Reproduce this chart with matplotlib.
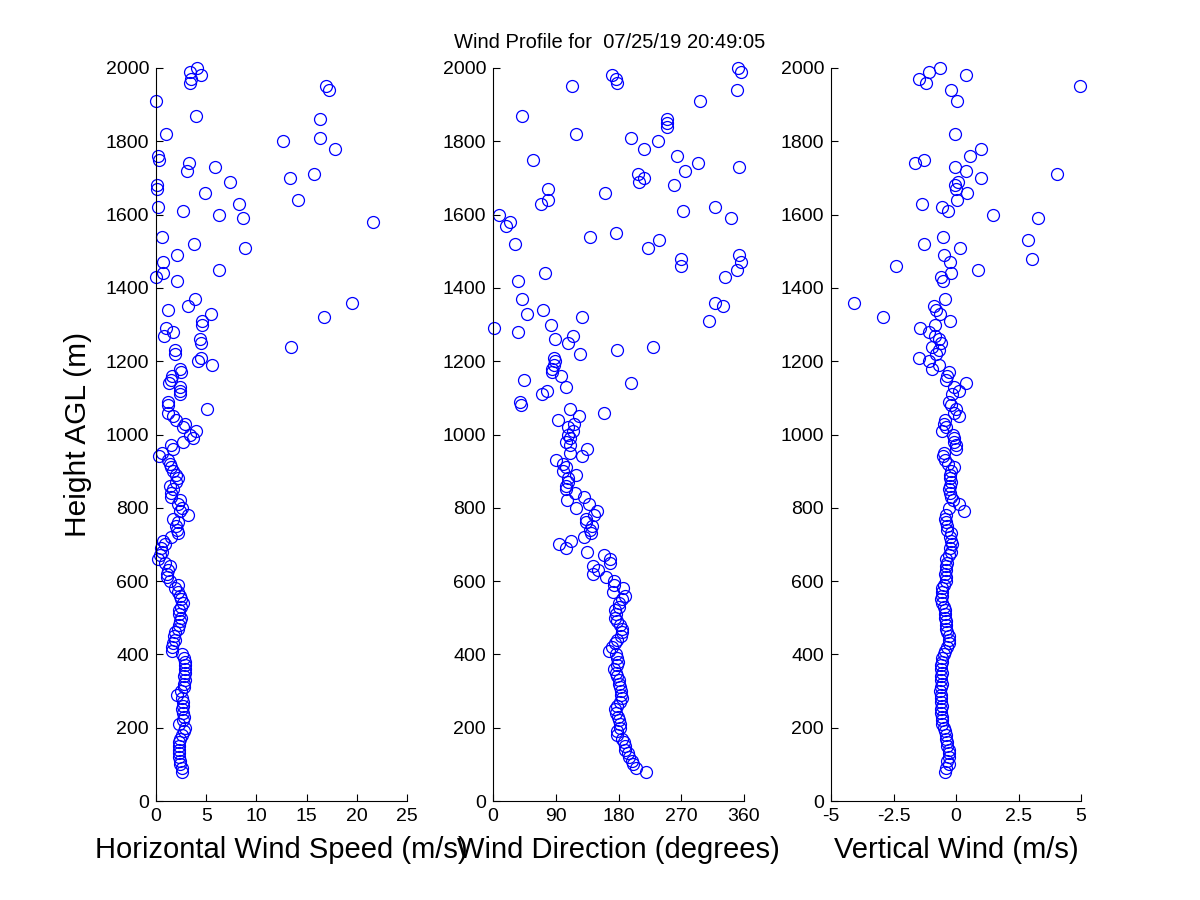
import numpy as np
import matplotlib
matplotlib.use("Agg")
import matplotlib.pyplot as plt

nan = np.nan
title = "Wind Profile for  07/25/19 20:49:05"

heights = [2000, 1990, 1980, 1970, 1960, 1950, 1940, 1910, 1870, 1860, 1850, 1840,
           1820, 1810, 1800, 1780, 1760, 1750, 1740, 1730, 1720, 1710, 1700, 1690,
           1680, 1670, 1660, 1640, 1630, 1620, 1610, 1600, 1590, 1580, 1570, 1550,
           1540, 1530, 1520, 1510, 1490, 1480, 1470, 1460, 1450, 1440, 1430, 1420,
           1370, 1360, 1350, 1340, 1330, 1320, 1310, 1300, 1290, 1280, 1270, 1260,
           1250, 1240, 1230, 1220, 1210, 1200, 1190, 1180, 1170, 1160, 1150, 1140,
           1130, 1120, 1110, 1090, 1080, 1070, 1060, 1050, 1040, 1030, 1020, 1010,
           1000, 990, 980, 970, 960, 950, 940, 930, 920, 910, 900, 890, 880, 870,
           860, 850, 840, 830, 820, 810, 800, 790, 780, 770, 760, 750, 740, 730,
           720, 710, 700, 690, 680, 670, 660, 650, 640, 630, 620, 610, 600, 590,
           580, 570, 560, 550, 540, 530, 520, 510, 500, 490, 480, 470, 460, 450,
           440, 430, 420, 410, 400, 390, 380, 370, 360, 350, 340, 330, 320, 310,
           300, 290, 280, 270, 260, 250, 240, 230, 220, 210, 200, 190, 180, 170,
           160, 150, 140, 130, 120, 110, 100, 90, 80]

speed = [4.1, 3.4, 4.5, 3.5, 3.4, 16.9, 17.2, 0.0, 4.0, 16.3, nan, nan,
         1.0, 16.3, 12.6, 17.8, 0.2, 0.3, 3.3, 5.9, 3.1, 15.7, 13.3, 7.4,
         0.1, 0.1, 4.9, 14.1, 8.3, 0.2, 2.7, 6.3, 8.7, 21.6, nan, nan,
         0.6, nan, 3.8, 8.9, 2.1, nan, 0.7, nan, 6.3, 0.7, 0.0, 2.1,
         3.9, 19.5, 3.2, 1.2, 5.5, 16.7, 4.6, 4.6, 1.0, 1.7, 0.8, 4.4,
         4.5, 13.4, 1.9, 1.9, 4.5, 4.2, 5.6, 2.4, 2.5, 1.6, 1.5, 1.3,
         2.4, 2.4, 2.4, 1.2, 1.2, 5.1, 1.2, 1.7, 2.0, 2.9, 2.7, 4.0,
         3.4, 3.7, 2.7, 1.5, 1.7, 0.6, 0.3, 1.2, 1.4, 1.5, 1.7, 2.0, 2.2, 2.0,
         1.4, 1.7, 1.5, 1.5, 2.4, 2.2, 2.6, 2.4, 3.2, 1.7, 2.2, 2.0, 2.1, 2.2,
         1.5, 0.7, 0.9, 0.5, 0.6, 0.4, 0.2, 0.9, 1.4, 1.2, 1.1, 1.1, 1.4, 2.2,
         1.9, 2.2, 2.4, 2.5, 2.7, 2.5, 2.3, 2.3, 2.5, 2.4, 2.3, 2.2, 1.9, 1.8,
         1.9, 1.7, 1.6, 1.6, 2.6, 2.8, 2.9, 2.9, 2.9, 2.9, 2.8, 2.9, 2.8, 2.8,
         2.5, 2.1, 2.6, 2.7, 2.7, 2.6, 2.7, 2.8, 2.7, 2.3, 2.9, 2.8, 2.6, 2.4,
         2.3, 2.3, 2.3, 2.3, 2.3, 2.4, 2.4, 2.6, 2.6]

direction = [351, 355, 171, 176, 178, 113, 350, 297, 42, 250, 250, 250,
             119, 198, 236, 217, 264, 58, 294, 353, 276, 208, 217, 209,
             260, 79, 161, 79, 69, 318, 273, 8, 342, 24, 19, 176,
             139, 238, 32, 223, 353, 270, 356, 269, 350, 74, 333, 36,
             41, 319, 330, 71, 49, 127, 310, 83, 1, 36, 115, 89,
             107, 230, 178, 125, 87, 89, 88, 84, 85, 98, 45, 198,
             105, 77, 70, 39, 40, 110, 159, 123, 93, 116, 107, 115,
             107, 110, 104, 110, 135, 110, 128, 90, 101, 104, 100, 119, 107, 107,
             105, 104, 117, 130, 106, 137, 119, 149, 145, 133, 133, 142, 139, 141,
             130, 112, 94, 105, 135, 159, 168, 168, 144, 150, 143, 162, 173, 174,
             186, 172, 190, 185, 180, 181, 175, 177, 175, 178, 182, 185, 185, 183,
             178, 175, 170, 166, 177, 178, 179, 178, 173, 176, 178, 180, 181, 182,
             183, 184, 185, 182, 178, 175, 177, 179, 181, 182, 182, 178, 178, 185,
             188, 189, 190, 193, 195, 199, 201, 205, 220]

vertical = [-0.63, -1.1, 0.41, -1.5, -1.2, 4.96, -0.2, 0.03, nan, nan, nan, nan,
            -0.03, nan, nan, 1.0, 0.57, -1.3, -1.64, -0.05, 0.39, 4.05, 1.0, 0.09,
            -0.03, 0.0, 0.43, 0.05, -1.35, -0.56, -0.31, 1.49, 3.29, nan, nan, nan,
            -0.51, 2.89, -1.28, 0.16, -0.47, 3.03, -0.23, -2.4, 0.89, -0.2, -0.6, -0.53,
            -0.43, -4.07, -0.9, -0.8, -0.64, -2.92, -0.23, -0.83, -1.43, -1.07, -0.84, -0.7,
            -0.6, -0.96, -0.7, -0.8, -1.47, -1.09, -0.7, -0.96, -0.3, -0.35, -0.4, 0.41,
            -0.07, 0.13, -0.17, -0.27, -0.2, 0.0, -0.07, 0.11, -0.43, -0.47, -0.4, -0.56,
            -0.13, -0.07, -0.1, 0.0, 0.0, -0.47, -0.53, -0.45, -0.33, -0.07, -0.2, -0.25, -0.25, -0.2,
            -0.25, -0.3, -0.25, -0.2, -0.13, 0.13, -0.3, 0.33, -0.4, -0.45, -0.4, -0.35, -0.35, -0.2,
            -0.25, -0.2, -0.15, -0.25, -0.2, -0.3, -0.4, -0.35, -0.4, -0.4, -0.45, -0.4, -0.4, -0.5,
            -0.55, -0.55, -0.55, -0.6, -0.55, -0.5, -0.45, -0.45, -0.45, -0.4, -0.4, -0.4, -0.35, -0.3,
            -0.27, -0.3, -0.35, -0.45, -0.5, -0.55, -0.55, -0.6, -0.6, -0.55, -0.6, -0.6, -0.55, -0.6,
            -0.65, -0.6, -0.6, -0.6, -0.55, -0.6, -0.6, -0.55, -0.55, -0.55, -0.5, -0.45, -0.4, -0.4,
            -0.35, -0.35, -0.3, -0.3, -0.3, -0.35, -0.3, -0.4, -0.45]

y_ticks = list(range(0, 2001, 200))
speed_ticks = [0, 5, 10, 15, 20, 25]
dir_ticks = [0, 90, 180, 270, 360]
vert_ticks = [-5, -2.5, 0, 2.5, 5]
vert_labels = ["-5", "-2.5", "0", "2.5", "5"]

plt.rcParams['font.family'] = ['Liberation Sans', 'DejaVu Sans']

fig = plt.figure(figsize=(12, 9), dpi=100)
W, H = 1200, 900
def box(x0, x1, y0=68, y1=801):
    return [x0 / W, 1 - y1 / H, (x1 - x0) / W, (y1 - y0) / H]

panels = [
    (box(156, 407), speed, (0, 25), speed_ticks, None, "Horizontal Wind Speed (m/s)"),
    (box(493, 744), direction, (0, 360), dir_ticks, None, "Wind Direction (degrees)"),
    (box(831, 1081), vertical, (-5, 5), vert_ticks, vert_labels, "Vertical Wind (m/s)"),
]

axes = []
for rect, vals, xlim, xt, xtl, xlabel in panels:
    ax = fig.add_axes(rect)
    ax.plot(vals, heights, linestyle='none', marker='o', markersize=8.6,
            markerfacecolor='none', markeredgecolor='#0000ff', markeredgewidth=0.9,
            clip_on=False)
    ax.set_xlim(*xlim)
    ax.set_ylim(0, 2000)
    ax.set_xticks(xt)
    if xtl is not None:
        ax.set_xticklabels(xtl)
    ax.set_yticks(y_ticks)
    ax.tick_params(direction='in', length=5, width=0.8, labelsize=14, pad=5, colors='black')
    for s in ('top', 'right'):
        ax.spines[s].set_visible(False)
    for s in ('left', 'bottom'):
        ax.spines[s].set_linewidth(0.8)
    ax.set_xlabel(xlabel, fontsize=21, labelpad=8)
    axes.append(ax)

axes[0].set_ylabel("Height AGL (m)", fontsize=21.5, labelpad=10)
fig.text(610 / W, 1 - 43 / H, title, ha='center', va='center', fontsize=14.5)

fig.savefig("out.png", dpi=100)
